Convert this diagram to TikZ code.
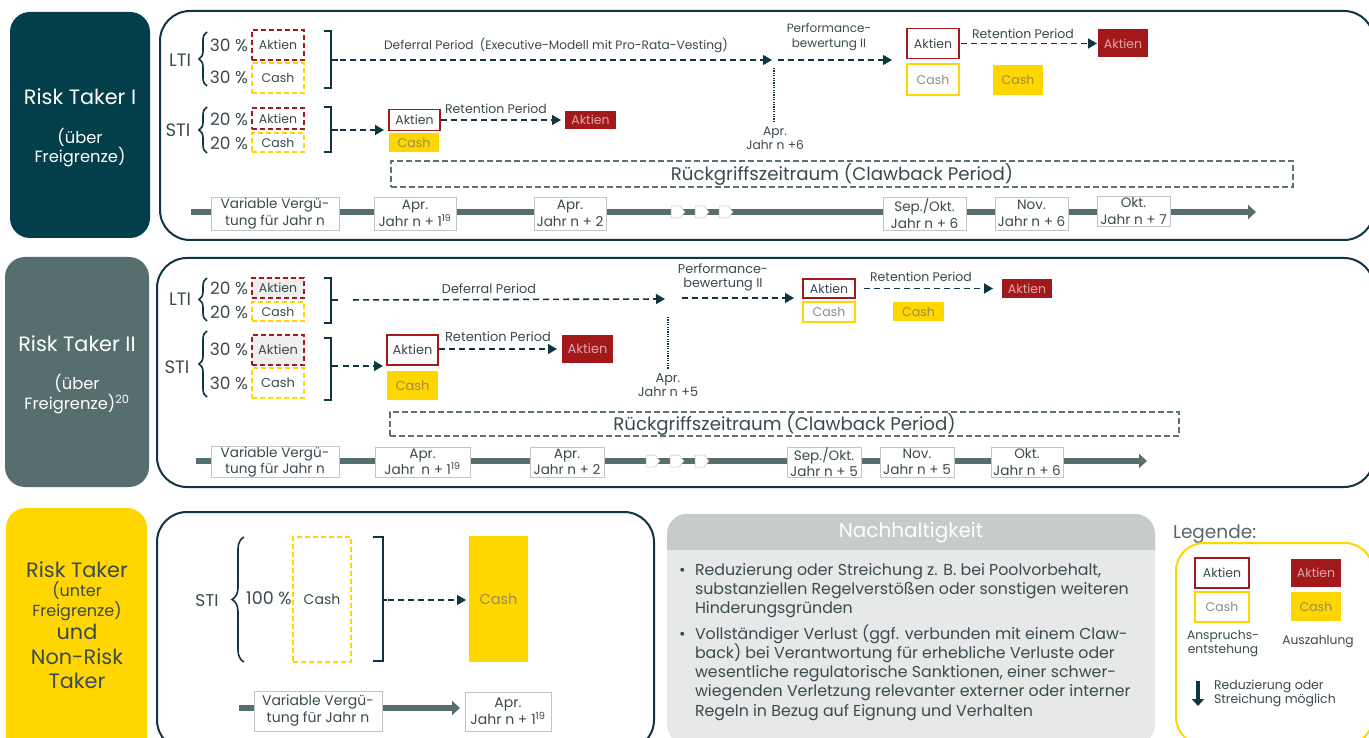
\documentclass[tikz,border=0pt]{standalone}
\usepackage{fontspec}
\setmainfont{Poppins}
\usetikzlibrary{arrows.meta,decorations.pathreplacing}
\definecolor{tealdark}{HTML}{033F4A}
\definecolor{tealgrey}{HTML}{566E6E}
\definecolor{rtyellow}{HTML}{FFD600}
\definecolor{akred}{HTML}{A3191B}
\definecolor{txt}{HTML}{3B4A4F}
\definecolor{panelc}{HTML}{0E3642}
\definecolor{clawc}{HTML}{5D7272}
\definecolor{tlboxc}{HTML}{C4C4C4}
\definecolor{nachbg}{HTML}{E7E9E8}
\definecolor{nachhead}{HTML}{C7CCCA}
\definecolor{cashtxt}{HTML}{9A8C55}
\definecolor{akfilltxt}{HTML}{DDA8A8}
\definecolor{greyfill}{HTML}{EFEFEF}
\definecolor{cashgrey}{HTML}{8C8C8C}
\newcommand{\fs}[2]{\fontsize{#1}{#2}\selectfont}
\newcommand{\mychev}[2]{\filldraw[fill=white,draw=black!25,line width=0.5pt] (#1-7,#2-6) -- (#1+2,#2-6) -- (#1+7,#2) -- (#1+2,#2+6) -- (#1-7,#2+6) -- cycle;}
\tikzset{
  every node/.style={inner sep=0pt, outer sep=0pt, text=txt},
  lab/.style={font=\fs{17}{20}},
  boxt/.style={font=\fs{12.5}{15}},
  akdash/.style={boxt, draw=akred, line width=1.8pt, dash pattern=on 5pt off 3pt, minimum width=52pt},
  cadash/.style={boxt, draw=rtyellow, line width=1.8pt, dash pattern=on 5pt off 3pt, minimum width=52pt},
  akout/.style={boxt, draw=akred, fill=white, line width=1.6pt},
  caout/.style={boxt, draw=rtyellow, fill=white, line width=1.6pt, text=cashgrey},
  akfill/.style={boxt, fill=akred, text=akfilltxt},
  cafill/.style={boxt, fill=rtyellow, text=cashtxt},
  tlbox/.style={draw=tlboxc, fill=white, line width=0.8pt, align=center, font=\fs{13.6}{16.5}},
  panel/.style={draw=panelc, line width=2pt, rounded corners=30pt},
  darr/.style={draw=panelc, line width=1.6pt, dash pattern=on 6pt off 4pt, -{Triangle[length=9pt,width=10pt]}},
  tlbar/.style={draw=tealgrey, line width=6pt, -{Triangle[length=8pt,width=14pt]}},
  bracestyle/.style={draw=panelc, line width=1.6pt, decorate, decoration={brace, amplitude=8pt}},
  bracketstyle/.style={draw=panelc, line width=1.6pt},
  claw/.style={draw=clawc, line width=2.2pt, dash pattern=on 6pt off 3pt, font=\fs{18.2}{21}},
  small/.style={font=\fs{12.2}{14}, align=center},
  dotline/.style={draw=panelc, line width=1.2pt, dash pattern=on 1.2pt off 1.2pt},
  bul/.style={font=\fs{15.8}{19}, anchor=base west},
}
\begin{document}
\begin{tikzpicture}[x=1pt,y=-1pt]
\clip (0,0) rectangle (1369,738);
\fill[white] (0,0) rectangle (1369,738);

% ---------------- left category boxes
\fill[tealdark, rounded corners=20pt] (10,12) rectangle (150,238);
\node[text=white, font=\fs{20.8}{24}] (rt1) at (80,97) {Risk Taker I};
\node[text=white, font=\fs{16.3}{19}, align=center] (rt1s) at (80,147.5) {(über\\Freigrenze)};

\fill[tealgrey, rounded corners=20pt] (5,257) rectangle (149,487);
\node[text=white, font=\fs{20.8}{24}] (rt2) at (77,344) {Risk Taker II};
\node[text=white, font=\fs{16.3}{20}, align=center] (rt2s) at (77,394.5) {(über\\Freigrenze)\textsuperscript{20}};

\fill[rtyellow, rounded corners=20pt] (6,508) rectangle (147,760);
\node[font=\fs{20.8}{24}] (rt3) at (77,570) {Risk Taker};
\node[font=\fs{16}{20}, align=center] (rt3s) at (77,601) {(unter\\Freigrenze)};
\node[font=\fs{20.8}{24}] (rt3u) at (77,632) {und};
\node[font=\fs{20.8}{24}, align=center] (rt3n) at (77,668.5) {Non-Risk\\Taker};

% ================= Panel 1 =================
\draw[panel] (160,11) rectangle (1374,240);
% LTI
\node[lab, font=\fs{18}{20}] (lti1) at (180,60) {LTI};
\node[lab] (p1a) at (229,45) {30 \%};
\node[lab] (p1b) at (229,77) {30 \%};
\draw[bracestyle] (207,86) -- (207,32);
\node[akdash, minimum height=30pt] (a1) at (278,45) {Aktien};
\node[cadash, minimum height=30pt] (c1) at (278,78) {Cash};
\draw[bracketstyle] (324,31) -- (331,31) -- (331,88) -- (324,88);
\coordinate (k1) at (338,60);
\draw[bracketstyle] (331,60) -- (k1);
\coordinate (d1) at (772,60);
\draw[darr, shorten <=2pt] (k1) -- (d1);
\node[small] (deflab1) at (556,45) {Deferral Period\enspace(Executive-Modell mit Pro-Rata-Vesting)};
\node[small, font=\fs{12}{15}] (perf1) at (829,37.5) {Performance-\\bewertung II};
\coordinate (d1b) at (778,60);
\node[akout, minimum width=52pt, minimum height=30pt] (a3) at (933,43.5) {Aktien};
\node[caout, minimum width=52pt, minimum height=31pt] (c3) at (933,79.5) {Cash};
\draw[darr, shorten >=15pt] (d1b) -- (a3.west |- d1b);
\coordinate (v1) at (774,68);
\node[small, font=\fs{12.3}{14}] (apr6) at (775,138) {Apr.\\Jahr n +6};
\draw[dotline, shorten >=4pt] (v1) -- (apr6.north -| v1);
\node[akfill, minimum width=50pt, minimum height=28pt] (a4) at (1123,43.5) {Aktien};
\node[cafill, minimum width=50pt, minimum height=30pt] (c4) at (1018,80) {Cash};
\draw[darr, shorten <=2pt, shorten >=1pt] (a3.east) -- (a4.west);
\node[small, font=\fs{12.5}{14}] (ret1) at (1023,34) {Retention Period};
% STI
\node[lab, font=\fs{18}{20}] (sti1) at (178,130) {STI};
\node[lab] (p1c) at (229,119) {20 \%};
\node[lab] (p1d) at (229,143) {20 \%};
\draw[bracestyle] (207,153) -- (207,107);
\node[akdash, minimum height=21pt] (a2) at (278,118.5) {Aktien};
\node[cadash, minimum height=19pt] (c2) at (278,142.5) {Cash};
\draw[bracketstyle] (324,107) -- (331,107) -- (331,152) -- (324,152);
\coordinate (k2) at (338,130);
\draw[bracketstyle] (331,130) -- (k2);
\node[akout, minimum width=51pt, minimum height=21pt] (a5) at (414.5,120) {Aktien};
\node[cafill, minimum width=50pt, minimum height=19pt] (c5) at (414,142.5) {Cash};
\draw[darr, shorten <=2pt, shorten >=5pt] (k2) -- (a5.west |- k2);
\node[akfill, minimum width=51pt, minimum height=18pt] (a6) at (590.5,120) {Aktien};
\draw[darr, shorten <=1pt, shorten >=4pt] (a5.east) -- (a6.west);
\node[small, font=\fs{12.5}{14}] (ret2) at (496,109) {Retention Period};
% clawback
\node[claw, minimum width=902pt, minimum height=26pt] (cb1) at (842,174) {Rückgriffszeitraum (Clawback Period)};
% timeline
\coordinate (ts1) at (191,212);
\coordinate (te1) at (1256,212);
\draw[tlbar] (ts1) -- (te1);
\mychev{678}{212}\mychev{702}{212}\mychev{726}{212}
\node[tlbox, minimum width=128pt, minimum height=33pt] (t11) at (275,213.5) {Variable Vergü-\\tung für Jahr n};
\node[tlbox, minimum width=82pt, minimum height=33pt] (t12) at (415,213.5) {Apr.\\Jahr n + 1\textsuperscript{19}};
\node[tlbox, minimum width=72pt, minimum height=33pt] (t13) at (570,213.5) {Apr.\\Jahr n + 2};
\node[tlbox, minimum width=83pt, minimum height=33pt] (t14) at (924.5,213.5) {Sep./Okt.\\Jahr n + 6};
\node[tlbox, minimum width=73pt, minimum height=33pt] (t15) at (1031.5,213.5) {Nov.\\Jahr n + 6};
\node[tlbox, minimum width=73pt, minimum height=30pt] (t16) at (1133.5,211) {Okt.\\Jahr n + 7};

% ================= Panel 2 =================
\draw[panel] (157,258) rectangle (1374,487);
\node[lab, font=\fs{18}{20}] (lti2) at (180,299) {LTI};
\node[lab] (p2a) at (229,288) {20 \%};
\node[lab] (p2b) at (229,312) {20 \%};
\draw[bracestyle] (207,321) -- (207,278);
\node[akdash, fill=greyfill, minimum height=20pt] (a7) at (278,288) {Aktien};
\node[cadash, minimum height=19pt] (c7) at (278,311.5) {Cash};
\draw[bracketstyle] (324,278) -- (331,278) -- (331,323) -- (324,323);
\coordinate (k4) at (338,300);
\draw[bracketstyle] (331,300) -- (k4);
\coordinate (d2) at (665,299);
\draw[darr, shorten <=15pt] (k4) -- (d2);
\node[small, font=\fs{12.8}{14}] (deflab2) at (489,289) {Deferral Period};
\node[small, font=\fs{12.8}{14}] (perf2) at (723,277.5) {Performance-\\bewertung II};
\coordinate (d2b) at (682,298);
\node[akout, minimum width=52pt, minimum height=19pt] (a8) at (829,288.5) {Aktien};
\node[caout, minimum width=52pt, minimum height=20pt] (c8) at (829,312) {Cash};
\draw[darr, shorten >=9pt] (d2b) -- (a8.west |- d2b);
\coordinate (v2) at (668,317);
\node[small, font=\fs{12.8}{14}] (apr5) at (668,385) {Apr.\\Jahr n +5};
\draw[dotline, shorten >=4pt] (v2) -- (apr5.north -| v2);
\node[akfill, minimum width=50pt, minimum height=19pt] (a9) at (1027,288.5) {Aktien};
\node[cafill, minimum width=51pt, minimum height=19pt] (c9) at (918.5,311.5) {Cash};
\draw[darr, shorten <=9pt, shorten >=9pt] (a8.east) -- (a9.west);
\node[small, font=\fs{12.5}{14}] (ret3) at (921,277) {Retention Period};
% STI
\node[lab, font=\fs{18}{20}] (sti2) at (177,367) {STI};
\node[lab] (p2c) at (229,349) {30 \%};
\node[lab] (p2d) at (229,383) {30 \%};
\draw[bracestyle] (207,397) -- (207,331);
\node[akdash, fill=greyfill, minimum height=30pt, font=\fs{13}{15}] (a10) at (278,350) {Aktien};
\node[cadash, minimum height=30pt, font=\fs{13}{15}] (c10) at (278,383) {Cash};
\draw[bracketstyle] (324,338) -- (331,338) -- (331,400) -- (324,400);
\coordinate (k5) at (338,366);
\draw[bracketstyle] (331,366) -- (k5);
\node[akout, minimum width=51pt, minimum height=30pt, font=\fs{13}{15}] (a11) at (412.5,350) {Aktien};
\node[cafill, minimum width=51pt, minimum height=29pt, font=\fs{13}{15}] (c11) at (412.5,385.5) {Cash};
\draw[darr, shorten <=5pt, shorten >=4pt] (k5) -- (a11.west |- k5);
\node[akfill, minimum width=51pt, minimum height=28pt, font=\fs{13}{15}] (a12) at (587.5,349) {Aktien};
\draw[darr, shorten <=1pt, shorten >=5pt] (a11.east |- a12.west) -- (a12.west);
\node[small, font=\fs{13}{15}] (ret4) at (498,337) {Retention Period};
% clawback
\node[claw, minimum width=789pt, minimum height=24pt] (cb2) at (784.5,424) {Rückgriffszeitraum (Clawback Period)};
% timeline
\coordinate (ts2) at (196,461);
\coordinate (te2) at (1147,461);
\draw[tlbar] (ts2) -- (te2);
\mychev{653}{461}\mychev{677}{461}\mychev{702}{461}
\node[tlbox, minimum width=128pt, minimum height=30pt] (t21) at (275,462) {Variable Vergü-\\tung für Jahr n};
\node[tlbox, minimum width=95pt, minimum height=30pt] (t22) at (422.5,462) {Apr.\\Jahr\enspace n + 1\textsuperscript{19}};
\node[tlbox, minimum width=74pt, minimum height=30pt] (t23) at (567,462) {Apr.\\Jahr n + 2};
\node[tlbox, minimum width=74pt, minimum height=30pt] (t24) at (824,462) {Sep./Okt.\\Jahr n + 5};
\node[tlbox, minimum width=74pt, minimum height=30pt] (t25) at (917,462) {Nov.\\Jahr n + 5};
\node[tlbox, minimum width=72pt, minimum height=30pt] (t26) at (1027,462) {Okt.\\Jahr n + 6};

% ================= Panel 3 =================
\draw[panel] (157,512) rectangle (654,750);
\node[lab] (sti3) at (207,601) {STI};
\draw[bracestyle, decoration={brace, amplitude=12pt}] (244,662) -- (244,537);
\node[lab, font=\fs{17.5}{20}] (p3) at (269,598) {100 \%};
\node[cadash, minimum width=58pt, minimum height=125pt, font=\fs{14}{16}] (c12) at (322,599.5) {Cash};
\draw[bracketstyle] (373,537) -- (383,537) -- (383,661) -- (373,661);
\coordinate (k3) at (387,600);
\draw[bracketstyle] (383,600) -- (k3);
\node[cafill, minimum width=59pt, minimum height=126pt, font=\fs{14.5}{16}] (c13) at (498.5,599) {Cash};
\draw[darr, shorten <=1pt, shorten >=3pt] (k3) -- (c13.west |- k3);
\coordinate (ts3) at (239,708);
\coordinate (te3) at (460,708);
\draw[tlbar] (ts3) -- (te3);
\node[tlbox, minimum width=128pt, minimum height=40pt, font=\fs{14}{17}] (t31) at (318,711) {Variable Vergü-\\tung für Jahr n};
\node[tlbox, minimum width=86pt, minimum height=39pt, font=\fs{14}{17}] (t32) at (508,711.5) {Apr.\\Jahr n + 1\textsuperscript{19}};

% ================= Nachhaltigkeit =================
\fill[nachbg, rounded corners=20pt] (667,514) rectangle (1155,745);
\begin{scope}
\clip (660,510) rectangle (1160,549);
\fill[nachhead, rounded corners=20pt] (667,514) rectangle (1155,745);
\end{scope}
\node[text=white, font=\fs{20}{24}] (nachT) at (911,533) {Nachhaltigkeit};
\node[bul] (b1) at (679,575.5) {•};
\node[bul] (l1) at (695,575.5) {Reduzierung oder Streichung z. B. bei Poolvorbehalt,};
\node[bul] (l2) at (695,594.5) {substanziellen Regelverstößen oder sonstigen weiteren};
\node[bul] (l3) at (695,613) {Hinderungsgründen};
\node[bul] (b2) at (679,639.5) {•};
\node[bul] (l4) at (695,639.5) {Vollständiger Verlust (ggf. verbunden mit einem Claw-};
\node[bul] (l5) at (695,658.5) {back) bei Verantwortung für erhebliche Verluste oder};
\node[bul] (l6) at (695,677.5) {wesentliche regulatorische Sanktionen, einer schwer-};
\node[bul] (l7) at (695,696.5) {wiegenden Verletzung relevanter externer oder interner};
\node[bul] (l8) at (695,716) {Regeln in Bezug auf Eignung und Verhalten};

% ================= Legende =================
\node[anchor=west, font=\fs{18.5}{21}, text=txt!85] (leg) at (1173,534) {Legende:};
\draw[draw=rtyellow, line width=2pt, rounded corners=28pt] (1176,543) rectangle (1373,745);
\node[akout, minimum width=54pt, minimum height=30pt] (la1) at (1222,573) {Aktien};
\node[akfill, minimum width=50pt, minimum height=28pt] (la2) at (1316,573) {Aktien};
\node[caout, minimum width=54pt, minimum height=30pt] (lc1) at (1222,607) {Cash};
\node[cafill, minimum width=50pt, minimum height=29pt] (lc2) at (1316,606.5) {Cash};
\node[small, font=\fs{12.3}{14}] (lt1) at (1223,644) {Anspruchs-\\entstehung};
\node[small, font=\fs{12.3}{14}] (lt2) at (1318,642) {Auszahlung};
\coordinate (la) at (1198,681);
\coordinate (lb) at (1198,706);
\draw[draw=panelc, line width=4pt, -{Triangle[length=7pt,width=12pt]}] (la) -- (lb);
\node[anchor=west, align=left, font=\fs{12.5}{14}] (lt3) at (1214,693) {Reduzierung oder\\Streichung möglich};
\end{tikzpicture}
\end{document}
